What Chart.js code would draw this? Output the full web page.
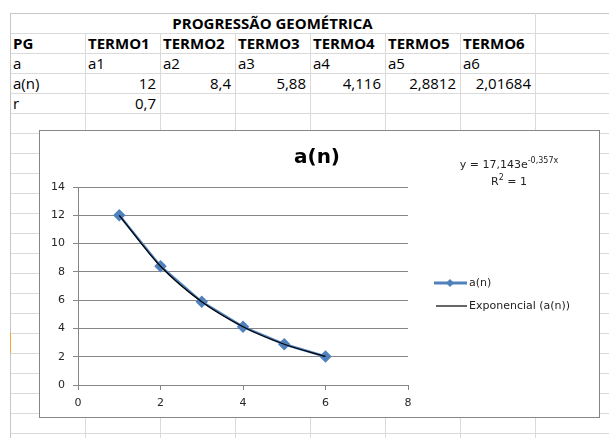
<!DOCTYPE html>
<html>
<head>
<meta charset="utf-8">
<script src="https://cdn.jsdelivr.net/npm/chart.js@4/dist/chart.umd.min.js"></script>
<style>
  body { margin: 0; width: 609px; height: 438px; background: #fff; overflow: hidden; position: relative; font-family: "Open Sans", sans-serif; }
  .hl { position: absolute; height: 1px; background: #dadada; }
  .vl { position: absolute; width: 1px; background: #dadada; }
  .cell { position: absolute; height: 20px; line-height: 20px; font-size: 15px; color: #000; white-space: nowrap; }
  .bold { font-weight: bold; }
  #chartBox { position: absolute; left: 39px; top: 130px; width: 561px; height: 288px; box-sizing: border-box; border: 1px solid #868686; background: #fff; }
  #chartBox canvas { position: absolute; left: 0; top: 0; }
</style>
</head>
<body>
<div id="sheet"></div>
<div id="chartBox"><canvas id="pgChart" width="559" height="286"></canvas></div>
<script>
// ========== DATA ========== //
const sheetTitle = "PROGRESSÃO GEOMÉTRICA";
const termLabels = ["TERMO1", "TERMO2", "TERMO3", "TERMO4", "TERMO5", "TERMO6"];
const indexLabels = ["a1", "a2", "a3", "a4", "a5", "a6"];
const xValues = [1, 2, 3, 4, 5, 6];
const anValues = [12, 8.4, 5.88, 4.116, 2.8812, 2.01684];
const ratio = 0.7;
const xTicks = [0, 2, 4, 6, 8];
const yTicks = [0, 2, 4, 6, 8, 10, 12, 14];
const trendCoef = "17,143";
const trendExp = "-0,357x";
const trendR2 = "1";

// ========== SPREADSHEET GRID ========== //
const sheet = document.getElementById("sheet");
const colX = [10, 85, 160, 235, 310, 385, 460, 535];
const rowTop = 13, rowH = 20;

function addDiv(cls, css, text) {
  const d = document.createElement("div");
  d.className = cls;
  Object.assign(d.style, css);
  if (text !== undefined) d.textContent = text;
  sheet.appendChild(d);
  return d;
}

for (let y = rowTop; y <= 438; y += rowH) {
  addDiv("hl", { left: "10px", top: y + "px", width: "599px", background: y === rowTop ? "#c6c6c6" : "#dadada" });
}
colX.forEach((x, i) => {
  // merged title cell: no inner lines in the first row
  const start = (i === 0 || x === 535) ? rowTop : rowTop + rowH;
  addDiv("vl", { left: x + "px", top: start + "px", height: (438 - start) + "px", background: i === 0 ? "#c6c6c6" : "#dadada" });
});
// active row marker
addDiv("vl", { left: "10px", top: "333px", height: "20px", background: "#f2a33a" });

function cellText(col, row, text, opts = {}) {
  const left = colX[col], w = 75;
  const css = { top: (rowTop + row * rowH) + "px" };
  if (opts.right) { css.left = left + "px"; css.width = (w - 4) + "px"; css.textAlign = "right"; }
  else { css.left = (left + 3) + "px"; }
  addDiv("cell" + (opts.bold ? " bold" : ""), css, text);
}

addDiv("cell bold", { left: "10px", width: "525px", top: rowTop + "px", textAlign: "center" }, sheetTitle);
cellText(0, 1, "PG", { bold: true });
termLabels.forEach((t, i) => cellText(i + 1, 1, t, { bold: true }));
cellText(0, 2, "a");
indexLabels.forEach((t, i) => cellText(i + 1, 2, t));
cellText(0, 3, "a(n)");
anValues.forEach((v, i) => cellText(i + 1, 3, String(v).replace(".", ","), { right: true }));
cellText(0, 4, "r");
cellText(1, 4, String(ratio).replace(".", ","), { right: true });

// ========== CHART ========== //
const points = xValues.map((x, i) => ({ x, y: anValues[i] }));
const tickFont = { family: "DejaVu Sans", size: 11 };

const overlayPlugin = {
  id: "overlay",
  afterDraw(chart) {
    const ctx = chart.ctx;
    ctx.save();
    // title
    ctx.fillStyle = "#000";
    ctx.font = "bold 20px 'DejaVu Sans'";
    ctx.textAlign = "center";
    ctx.textBaseline = "middle";
    ctx.fillText("a(n)", 277, 27);

    // trendline equation
    ctx.fillStyle = "#222";
    ctx.font = "11px 'DejaVu Sans'";
    const base = "y = " + trendCoef + "e";
    const wBase = ctx.measureText(base).width;
    ctx.font = "8px 'DejaVu Sans'";
    const wSup = ctx.measureText(trendExp).width;
    const x0 = 469 - (wBase + wSup) / 2;
    ctx.textAlign = "left";
    ctx.font = "11px 'DejaVu Sans'";
    ctx.fillText(base, x0, 34);
    ctx.font = "8px 'DejaVu Sans'";
    ctx.fillText(trendExp, x0 + wBase, 30);
    ctx.font = "11px 'DejaVu Sans'";
    const r1 = "R", r3 = " = " + trendR2;
    const wR = ctx.measureText(r1).width, wR3 = ctx.measureText(r3).width;
    ctx.font = "8px 'DejaVu Sans'";
    const w2 = ctx.measureText("2").width;
    const rx = 469 - (wR + w2 + wR3) / 2;
    ctx.font = "11px 'DejaVu Sans'";
    ctx.fillText(r1, rx, 51);
    ctx.fillText(r3, rx + wR + w2, 51);
    ctx.font = "8px 'DejaVu Sans'";
    ctx.fillText("2", rx + wR, 47);

    // legend
    const ds = chart.data.datasets;
    const rows = [{ y: 152, x1: 394 }, { y: 175, x1: 396 }];
    ds.forEach((d, i) => {
      const r = rows[i];
      ctx.strokeStyle = d.borderColor;
      ctx.lineWidth = i === 0 ? 3 : 1.2;
      ctx.beginPath();
      ctx.moveTo(r.x1, r.y);
      ctx.lineTo(427, r.y);
      ctx.stroke();
      if (i === 0) {
        ctx.fillStyle = d.pointBackgroundColor;
        ctx.beginPath();
        ctx.moveTo(410, r.y - 4);
        ctx.lineTo(414, r.y);
        ctx.lineTo(410, r.y + 4);
        ctx.lineTo(406, r.y);
        ctx.closePath();
        ctx.fill();
      }
      ctx.fillStyle = "#222";
      ctx.font = "11px 'DejaVu Sans'";
      ctx.textBaseline = "middle";
      ctx.fillText(d.label, 429, r.y);
    });
    ctx.restore();
  }
};

new Chart(document.getElementById("pgChart").getContext("2d"), {
  type: "scatter",
  data: {
    datasets: [
      {
        label: "a(n)",
        data: points,
        showLine: true,
        borderColor: "#4F81BD",
        backgroundColor: "#4F81BD",
        borderWidth: 2.5,
        pointStyle: "rectRot",
        pointRadius: 4.5,
        pointBackgroundColor: "#4F81BD",
        pointBorderColor: "#4F81BD",
        tension: 0,
        order: 2
      },
      {
        label: "Exponencial (a(n))",
        data: points,
        showLine: true,
        borderColor: "#000",
        borderWidth: 1.3,
        pointRadius: 0,
        cubicInterpolationMode: "monotone",
        order: 1
      }
    ]
  },
  options: {
    responsive: false,
    animation: false,
    layout: { padding: { top: 56, right: 191, left: 0, bottom: 0 } },
    plugins: {
      legend: { display: false },
      tooltip: { enabled: false },
      title: { display: false }
    },
    scales: {
      x: {
        type: "linear",
        min: xTicks[0],
        max: xTicks[xTicks.length - 1],
        afterBuildTicks: s => { s.ticks = xTicks.map(v => ({ value: v })); },
        afterFit: s => { s.height = 32; },
        grid: { drawOnChartArea: false, drawTicks: true, tickLength: 5, color: "#868686" },
        border: { display: true, color: "#868686" },
        ticks: { font: tickFont, color: "#262626", padding: 7, maxRotation: 0 }
      },
      y: {
        type: "linear",
        min: yTicks[0],
        max: yTicks[yTicks.length - 1],
        afterBuildTicks: s => { s.ticks = yTicks.map(v => ({ value: v })); },
        afterFit: s => { s.width = 38; },
        grid: { drawTicks: true, tickLength: 5, color: "#868686" },
        border: { display: true, color: "#868686" },
        ticks: { font: tickFont, color: "#262626", padding: 8 }
      }
    }
  },
  plugins: [overlayPlugin]
});
</script>
</body>
</html>
